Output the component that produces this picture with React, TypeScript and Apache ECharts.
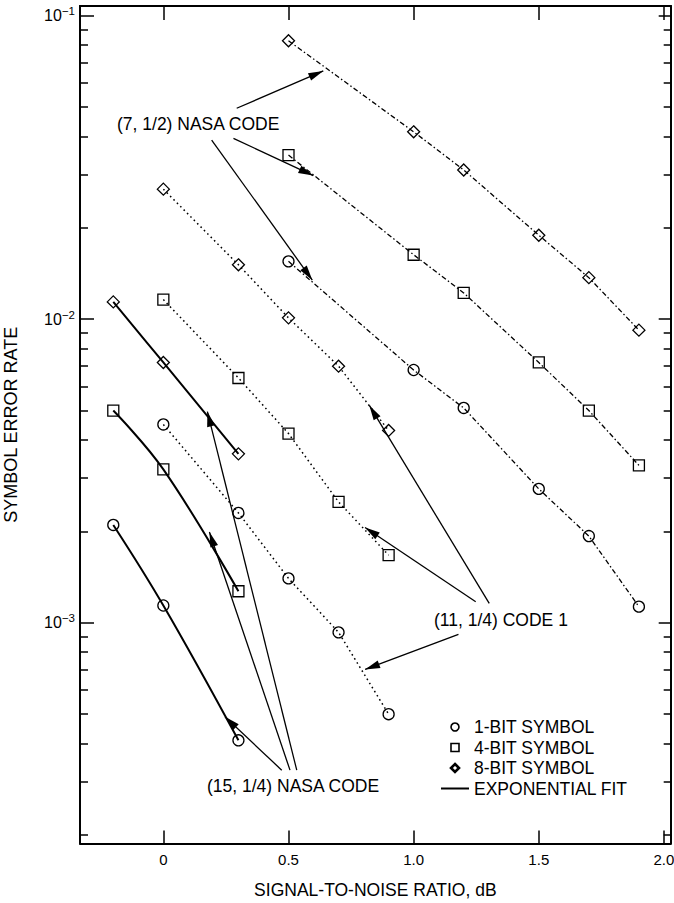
import { useEffect, useRef } from 'react';
import * as echarts from 'echarts';

// ---- axis ticks / labels ----
const xTickValues = [0, 0.5, 1.0, 1.5, 2.0];
const xTickLabels = ['0', '0.5', '1.0', '1.5', '2.0'];
const yMajorTicks = [0.001, 0.01, 0.1];
const yMajorExponents = ['\u22123', '\u22122', '\u22121'];
const yMinorTicks = [
  0.0002, 0.0003, 0.0004, 0.0005, 0.0006, 0.0007, 0.0008, 0.0009,
  0.002, 0.003, 0.004, 0.005, 0.006, 0.007, 0.008, 0.009,
  0.02, 0.03, 0.04, 0.05, 0.06, 0.07, 0.08, 0.09,
];
const X_MIN = -0.333;
const X_MAX = 2.027;
const Y_MIN = 1.875e-4;
const Y_MAX = 0.1075;

// ---- (7, 1/2) NASA code ----
const snrCode7 = [0.5, 1.0, 1.2, 1.5, 1.7, 1.9];
const code7Bit8 = [0.0826, 0.0414, 0.031, 0.0189, 0.0137, 0.0092];
const code7Bit4 = [0.0347, 0.0163, 0.0122, 0.0072, 0.005, 0.0033];
const code7Bit1 = [0.0155, 0.0068, 0.0051, 0.00276, 0.00193, 0.00113];

// ---- (11, 1/4) code 1 ----
const snrCode11 = [0, 0.3, 0.5, 0.7, 0.9];
const code11Bit8 = [0.0268, 0.0151, 0.0101, 0.007, 0.0043];
const code11Bit4 = [0.0116, 0.0064, 0.0042, 0.0025, 0.00167];
const code11Bit1 = [0.0045, 0.0023, 0.0014, 0.00093, 0.0005];

// ---- (15, 1/4) NASA code (exponential fit) ----
const snrCode15 = [-0.2, 0, 0.3];
const code15Bit8 = [0.0114, 0.0072, 0.0036];
const code15Bit4 = [0.005, 0.0032, 0.00127];
const code15Bit1 = [0.0021, 0.00114, 0.00041];

// ---- annotation arrows: [tail, tip] in data coordinates ----
const arrowsCode7 = [
  [[0.293, 0.0495], [0.639, 0.0657]],
  [[0.28, 0.0394], [0.599, 0.0297]],
  [[0.193, 0.0389], [0.595, 0.01345]],
];
const arrowsCode11 = [
  [[1.248, 0.001173], [0.806, 0.00206]],
  [[1.302, 0.001158], [0.823, 0.0052]],
  [[1.179, 0.000916], [0.806, 0.000702]],
];
const arrowsCode15 = [
  [[0.473, 0.000327], [0.2465, 0.00049]],
  [[0.506, 0.000327], [0.184, 0.00199]],
  [[0.533, 0.000327], [0.176, 0.00496]],
];

const annotationTexts = ['(7, 1/2) NASA CODE', '(11, 1/4) CODE 1', '(15, 1/4) NASA CODE'];
const legendNames = ['1-BIT SYMBOL', '4-BIT SYMBOL', '8-BIT SYMBOL', 'EXPONENTIAL FIT'];

const FONT = '"Liberation Sans", Arial, Helvetica, sans-serif';

function pairs(xs: number[], ys: number[]) {
  return xs.map((x, i) => [x, ys[i]]);
}

function arrowMarkLine(arrows: number[][][]) {
  return {
    silent: true,
    animation: false,
    symbol: ['none', 'triangle'],
    lineStyle: { color: '#000', width: 1.3, type: 'solid' },
    label: { show: false },
    emphasis: { disabled: true },
    data: arrows.map(([a, b]) => [
      { coord: a, symbol: 'none' },
      { coord: b, symbol: 'triangle', symbolSize: [8, 15], symbolOffset: [0, 7.5] },
    ]),
  };
}

function series(
  name: string,
  xs: number[],
  ys: number[],
  symbol: string,
  lineType: any,
  width: number,
  smooth: boolean,
  arrows?: number[][][]
) {
  const s: any = {
    type: 'line',
    name,
    data: pairs(xs, ys),
    xAxisIndex: 0,
    yAxisIndex: 0,
    symbol,
    symbolSize: symbol === 'diamond' ? 12 : 11,
    showSymbol: true,
    smooth: smooth ? 0.4 : false,
    silent: true,
    emphasis: { disabled: true },
    itemStyle: { color: 'rgba(0,0,0,0)', borderColor: '#000', borderWidth: 1.3 },
    lineStyle: { color: '#000', width, type: lineType },
    z: 3,
  };
  if (arrows) s.markLine = arrowMarkLine(arrows);
  return s;
}

const DASH_DOT = [5, 2.5, 1.5, 2.5];
const DOTTED = [1.6, 3.2];

export default function App() {
  const ref = useRef<HTMLDivElement>(null);

  useEffect(() => {
    if (!ref.current) return;
    const chart = echarts.init(ref.current, undefined, { renderer: 'svg' });

    const axisLine = { show: true, onZero: false, lineStyle: { color: '#000', width: 1.8 } };
    const tickStyle = { color: '#000', width: 1.5 };

    const yBase: any = {
      type: 'log',
      logBase: 10,
      min: Y_MIN,
      max: Y_MAX,
      splitLine: { show: false },
      minorTick: { show: false },
      axisLine,
    };

    const legendSymbolStyle = { color: 'rgba(0,0,0,0)', borderColor: '#000', borderWidth: 1.6 };

    const option: any = {
      animation: false,
      backgroundColor: '#fff',
      grid: {
        left: 80,
        right: 3.3,
        top: 6,
        bottom: 59.5,
        containLabel: false,
        outerBoundsMode: 'none',
      },
      xAxis: [
        {
          type: 'value',
          position: 'bottom',
          min: X_MIN,
          max: X_MAX,
          splitLine: { show: false },
          axisLine,
          axisTick: { show: true, inside: true, length: 13, customValues: xTickValues, lineStyle: tickStyle },
          axisLabel: {
            show: true,
            customValues: xTickValues,
            margin: 8,
            fontFamily: FONT,
            fontSize: 15,
            color: '#000',
            formatter: (v: number) => {
              const i = xTickValues.findIndex((t) => Math.abs(t - v) < 1e-6);
              return i < 0 ? '' : xTickLabels[i];
            },
          },
          name: 'SIGNAL-TO-NOISE RATIO, dB',
          nameLocation: 'middle',
          nameGap: 37,
          nameMoveOverlap: false,
          nameTextStyle: { fontFamily: FONT, fontSize: 17.5, color: '#000' },
        },
        {
          type: 'value',
          position: 'top',
          min: X_MIN,
          max: X_MAX,
          splitLine: { show: false },
          axisLine,
          axisTick: { show: true, inside: true, length: 14, customValues: xTickValues, lineStyle: tickStyle },
          axisLabel: { show: false },
        },
      ],
      yAxis: [
        {
          ...yBase,
          position: 'left',
          axisTick: { show: true, inside: true, length: 14, customValues: yMajorTicks, lineStyle: tickStyle },
          axisLabel: {
            show: true,
            customValues: yMajorTicks,
            margin: 5,
            color: '#000',
            fontFamily: FONT,
            formatter: (v: number) => {
              const i = yMajorTicks.findIndex((t) => Math.abs(Math.log10(t) - Math.log10(v)) < 1e-6);
              return i < 0 ? '' : `{b|10}{s|${yMajorExponents[i]}}`;
            },
            rich: {
              b: { fontFamily: FONT, fontSize: 16, color: '#000', lineHeight: 21 },
              s: { fontFamily: FONT, fontSize: 11.5, color: '#000', lineHeight: 12, verticalAlign: 'top' },
            },
          },
          name: 'SYMBOL ERROR RATE',
          nameLocation: 'middle',
          nameGap: 60,
          nameMoveOverlap: false,
          nameTextStyle: { fontFamily: FONT, fontSize: 18, color: '#000' },
        },
        {
          ...yBase,
          position: 'left',
          axisTick: { show: true, inside: true, length: 8, customValues: yMinorTicks, lineStyle: tickStyle },
          axisLabel: { show: false },
        },
        {
          ...yBase,
          position: 'right',
          axisTick: { show: true, inside: true, length: 12, customValues: yMajorTicks, lineStyle: tickStyle },
          axisLabel: { show: false },
        },
        {
          ...yBase,
          position: 'right',
          axisTick: { show: true, inside: true, length: 7, customValues: yMinorTicks, lineStyle: tickStyle },
          axisLabel: { show: false },
        },
      ],
      legend: {
        show: true,
        orient: 'vertical',
        left: 435,
        top: 713,
        padding: 5,
        itemWidth: 28,
        itemHeight: 10,
        itemGap: 2.5,
        selectedMode: false,
        textStyle: { fontFamily: FONT, fontSize: 17.5, color: '#000', lineHeight: 17.5 },
        data: [
          { name: legendNames[0], itemStyle: legendSymbolStyle, lineStyle: { opacity: 0, width: 0 } },
          { name: legendNames[1], itemStyle: legendSymbolStyle, lineStyle: { opacity: 0, width: 0 } },
          {
            name: legendNames[2],
            itemStyle: { ...legendSymbolStyle, borderWidth: 2.6 },
            lineStyle: { opacity: 0, width: 0 },
          },
          { name: legendNames[3], itemStyle: { opacity: 0 }, lineStyle: { color: '#000', width: 2, type: 'solid' } },
        ],
      },
      series: [
        series(legendNames[2], snrCode7, code7Bit8, 'diamond', DASH_DOT, 1.3, false, arrowsCode7),
        series(legendNames[1], snrCode7, code7Bit4, 'rect', DASH_DOT, 1.3, false),
        series(legendNames[0], snrCode7, code7Bit1, 'circle', DASH_DOT, 1.3, false),
        series(legendNames[2], snrCode11, code11Bit8, 'diamond', DOTTED, 1.5, false, arrowsCode11),
        series(legendNames[1], snrCode11, code11Bit4, 'rect', DOTTED, 1.5, false),
        series(legendNames[0], snrCode11, code11Bit1, 'circle', DOTTED, 1.5, false),
        series(legendNames[2], snrCode15, code15Bit8, 'diamond', 'solid', 2, true, arrowsCode15),
        series(legendNames[1], snrCode15, code15Bit4, 'rect', 'solid', 2, true),
        series(legendNames[0], snrCode15, code15Bit1, 'circle', 'solid', 2, true),
        {
          type: 'line',
          name: legendNames[3],
          data: [],
          symbol: 'none',
          silent: true,
          lineStyle: { color: '#000', width: 2, type: 'solid' },
          itemStyle: { color: '#000' },
        },
      ],
      graphic: [
        {
          type: 'text',
          x: 117,
          y: 124,
          silent: true,
          style: {
            text: annotationTexts[0],
            fontFamily: FONT,
            fontSize: 17.5,
            fill: '#000',
            align: 'left',
            verticalAlign: 'middle',
            textAlign: 'left',
            textVerticalAlign: 'middle',
          },
        },
        {
          type: 'text',
          x: 434,
          y: 620,
          silent: true,
          style: {
            text: annotationTexts[1],
            fontFamily: FONT,
            fontSize: 17.5,
            fill: '#000',
            align: 'left',
            verticalAlign: 'middle',
            textAlign: 'left',
            textVerticalAlign: 'middle',
          },
        },
        {
          type: 'text',
          x: 207,
          y: 786,
          silent: true,
          style: {
            text: annotationTexts[2],
            fontFamily: FONT,
            fontSize: 17.5,
            fill: '#000',
            align: 'left',
            verticalAlign: 'middle',
            textAlign: 'left',
            textVerticalAlign: 'middle',
          },
        },
      ],
    };

    chart.setOption(option);
    return () => chart.dispose();
  }, []);

  return (
    <div
      ref={ref}
      style={{ position: 'absolute', left: 0, top: 0, width: 674, height: 903, background: '#fff' }}
    />
  );
}
